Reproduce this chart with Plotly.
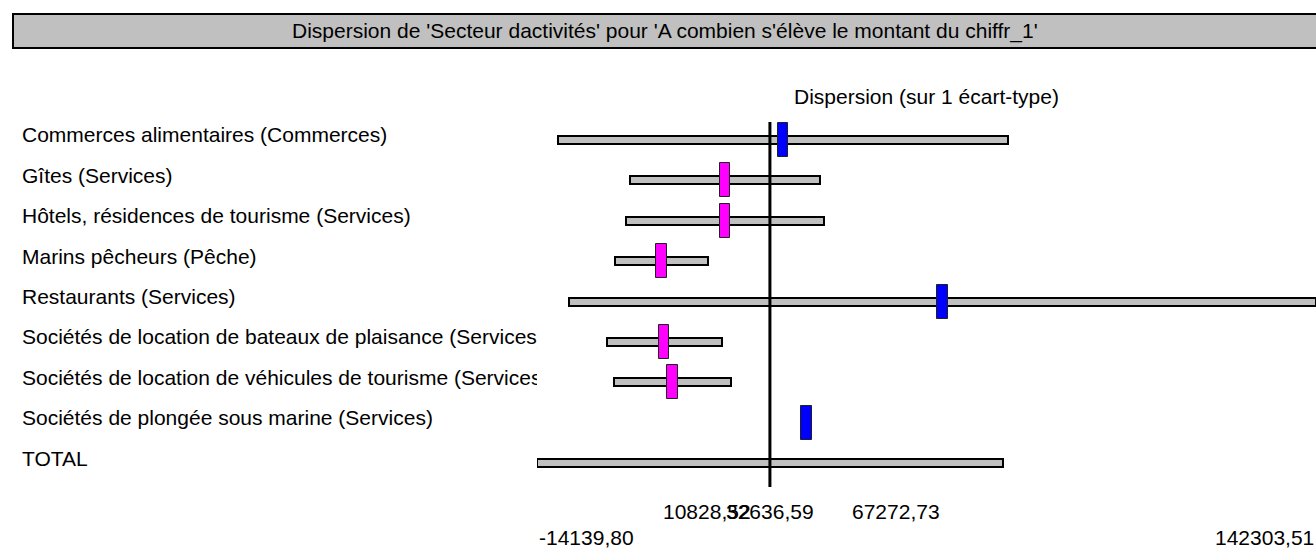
import plotly.graph_objects as go

# values
categories = [
    "Commerces alimentaires (Commerces)",
    "Gîtes (Services)",
    "Hôtels, résidences de tourisme (Services)",
    "Marins pêcheurs (Pêche)",
    "Restaurants (Services)",
    "Sociétés de location de bateaux de plaisance (Services)",
    "Sociétés de location de véhicules de tourisme (Services)",
    "Sociétés de plongée sous marine (Services)",
    "TOTAL",
]
means = [35300, 23600, 23600, 10828.52, 67272.73, 11400, 13100, 39980, 32636.59]
std_devs = [45160, 19150, 19850, 9340, 75030.78, 11580, 11800, 0, 46776.39]

total_mean = 32636.59
axis_min = -14139.80
axis_max = 142303.51

tick_values = [10828.52, 32636.59, 67272.73]
tick_texts = ["10828,52", "32636,59", "67272,73"]
range_texts = ["-14139,80", "142303,51"]

title = "Dispersion de 'Secteur dactivités' pour 'A combien s'élève le montant du chiffr_1'"
subtitle = "Dispersion (sur 1 écart-type)"

# layout helpers (pixels of a 1316x554 page)
W, H = 1316, 554
PLOT_LEFT = 537
PLOT_TOP, PLOT_BOTTOM = 122, 487
ROW0, ROW_STEP = 140, 40.4
FONT = "Liberation Sans, Arial, sans-serif"
FS = 21
MARK_HALF = 1040   # half width of the mean marker, in data units
LABEL_SHIFT = -0.07  # row labels sit a little above the bars


def py(p):
    # pixel y -> paper y
    return (PLOT_BOTTOM - p) / (PLOT_BOTTOM - PLOT_TOP)


rows = list(range(len(categories)))
y_top = (PLOT_TOP - ROW0) / ROW_STEP
y_bot = (PLOT_BOTTOM - ROW0) / ROW_STEP

fig = go.Figure()

# grey bars: mean +/- 1 std dev
fig.add_trace(go.Bar(
    orientation="h", y=rows,
    base=[m - s for m, s in zip(means, std_devs)],
    x=[2 * s for s in std_devs],
    width=0.2,
    marker=dict(color="#c0c0c0", line=dict(color="black", width=2)),
    hoverinfo="skip", showlegend=False,
))

# mean markers (not for TOTAL)
mk_rows = [r for r, c in zip(rows, categories) if c != "TOTAL"]
mk_means = [means[r] for r in mk_rows]
mk_colors = ["#0000ff" if m > total_mean else "#ff00ff" for m in mk_means]
fig.add_trace(go.Bar(
    orientation="h", y=mk_rows,
    base=[m - MARK_HALF for m in mk_means],
    x=[2 * MARK_HALF] * len(mk_rows),
    width=0.84,
    marker=dict(color=mk_colors, line=dict(color="#202020", width=1)),
    hoverinfo="skip", showlegend=False,
))

# row labels, clipped by their own subplot
fig.add_trace(go.Scatter(
    x=[0] * len(categories), y=[r + LABEL_SHIFT for r in rows], text=categories,
    mode="text", textposition="middle right",
    textfont=dict(family=FONT, size=FS, color="black"),
    xaxis="x2", yaxis="y", cliponaxis=True,
    hoverinfo="skip", showlegend=False,
))

fig.add_shape(type="line", xref="x", yref="paper",
              x0=total_mean, x1=total_mean, y0=0, y1=1,
              line=dict(color="black", width=3), layer="above")

# title box
fig.add_shape(type="rect", xref="paper", yref="paper",
              x0=13 / W, x1=1.002, y0=py(48), y1=py(14),
              fillcolor="#c0c0c0", line=dict(color="black", width=2))
fig.add_annotation(text=title, xref="paper", yref="paper",
                   x=(13 + W) / 2 / W, y=py(31), showarrow=False,
                   xanchor="center", yanchor="middle",
                   font=dict(family=FONT, size=FS, color="black"))
fig.add_annotation(text=subtitle, xref="paper", yref="paper",
                   x=(PLOT_LEFT + W) / 2 / W, y=py(96), showarrow=False,
                   xanchor="center", yanchor="middle",
                   font=dict(family=FONT, size=FS, color="black"))

# value labels under the chart
anchors = ["left", "center", "right"]
for v, t, a in zip(tick_values, tick_texts, anchors):
    fig.add_annotation(text=t, xref="x", yref="paper", x=v, y=py(511),
                       showarrow=False, xanchor=a, yanchor="middle",
                       font=dict(family=FONT, size=FS, color="black"))
for v, t, a in zip([axis_min, axis_max], range_texts, ["left", "right"]):
    fig.add_annotation(text=t, xref="x", yref="paper", x=v, y=py(537),
                       showarrow=False, xanchor=a, yanchor="middle",
                       font=dict(family=FONT, size=FS, color="black"))

fig.update_layout(
    width=W, height=H,
    margin=dict(l=0, r=0, t=PLOT_TOP, b=H - PLOT_BOTTOM, pad=0),
    paper_bgcolor="white", plot_bgcolor="white",
    barmode="overlay", bargap=0,
    xaxis=dict(domain=[PLOT_LEFT / W, 1], range=[axis_min, axis_max],
               visible=False, showgrid=False, zeroline=False),
    xaxis2=dict(domain=[22 / W, PLOT_LEFT / W], range=[0, 1], anchor="y",
                visible=False, showgrid=False, zeroline=False),
    yaxis=dict(range=[y_bot, y_top], visible=False,
               showgrid=False, zeroline=False),
)

# drop the default page margin so the figure sits at the window's corner
fig.write_html("out.html", config={"displayModeBar": False},
               post_script="document.body.style.margin='0';")
